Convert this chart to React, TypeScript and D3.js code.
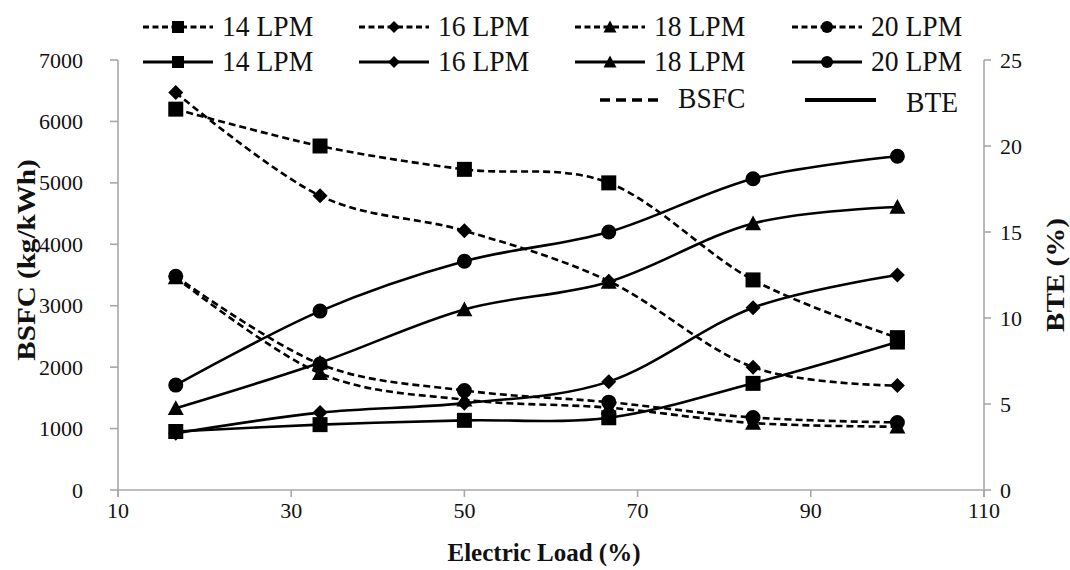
import React from "react";
import * as d3 from "d3";

// Electric load (%) at which each measurement was taken
const LOADS = [16.67, 33.33, 50, 66.67, 83.33, 100];

// Brake specific fuel consumption (kg/kWh) per flow rate
const BSFC_14 = [6200, 5600, 5220, 5000, 3420, 2480];
const BSFC_16 = [6470, 4790, 4220, 3400, 2000, 1700];
const BSFC_18 = [3460, 1900, 1470, 1340, 1090, 1030];
const BSFC_20 = [3480, 2050, 1620, 1430, 1180, 1100];

// Brake thermal efficiency (%) per flow rate
const BTE_14 = [3.4, 3.8, 4.05, 4.2, 6.2, 8.6];
const BTE_16 = [3.3, 4.5, 5.05, 6.3, 10.6, 12.5];
const BTE_18 = [4.75, 7.4, 10.5, 12.1, 15.5, 16.45];
const BTE_20 = [6.1, 10.4, 13.3, 15.0, 18.1, 19.4];

const FLOW_LABELS = ["14 LPM", "16 LPM", "18 LPM", "20 LPM"];
const SHAPES = ["square", "diamond", "triangle", "circle"];

const X_TICKS = [10, 30, 50, 70, 90, 110];
const YL_TICKS = [0, 1000, 2000, 3000, 4000, 5000, 6000, 7000];
const YR_TICKS = [0, 5, 10, 15, 20, 25];

const W = 1070;
const H = 570;
const PLOT = { left: 118, right: 984, top: 60, bottom: 490 };
const AXIS_COLOR = "#a8a8a8";
const FONT = "Liberation Serif, DejaVu Serif, serif";

function markerPath(shape: string, cx: number, cy: number, s: number): string {
  const h = s / 2;
  if (shape === "square") {
    return `M${cx - h},${cy - h}h${s}v${s}h${-s}Z`;
  }
  if (shape === "diamond") {
    return `M${cx},${cy - h}L${cx + h},${cy}L${cx},${cy + h}L${cx - h},${cy}Z`;
  }
  if (shape === "triangle") {
    return `M${cx},${cy - h}L${cx + h},${cy + h * 0.85}L${cx - h},${cy + h * 0.85}Z`;
  }
  return `M${cx - h},${cy}a${h},${h} 0 1,0 ${s},0a${h},${h} 0 1,0 ${-s},0Z`;
}

const MARK_SIZE: Record<string, number> = { square: 15, diamond: 15, triangle: 16, circle: 15 };
const LEG_SIZE: Record<string, number> = { square: 12, diamond: 12, triangle: 13, circle: 12 };

function Txt(props: {
  x: number;
  y: number;
  sx?: number;
  rot?: number;
  size: number;
  anchor?: string;
  bold?: boolean;
  children: React.ReactNode;
}) {
  const { x, y, sx = 1, rot = 0, size, anchor = "start", bold = false } = props;
  return (
    <text
      transform={`translate(${x},${y}) rotate(${rot}) scale(${sx},1)`}
      style={{
        fontFamily: FONT,
        fontSize: size,
        fontWeight: bold ? "bold" : "normal",
      }}
      textAnchor={anchor}
      fill="#111"
    >
      {props.children}
    </text>
  );
}

export default function App() {
  const x = d3.scaleLinear().domain([10, 110]).range([PLOT.left, PLOT.right]);
  const yL = d3.scaleLinear().domain([0, 7000]).range([PLOT.bottom, PLOT.top]);
  const yR = d3.scaleLinear().domain([0, 25]).range([PLOT.bottom, PLOT.top]);

  const bsfc = [BSFC_14, BSFC_16, BSFC_18, BSFC_20];
  const bte = [BTE_14, BTE_16, BTE_18, BTE_20];

  const lineL = d3
    .line<number>()
    .x((_, i) => x(LOADS[i]))
    .y((d) => yL(d))
    .curve(d3.curveCatmullRom.alpha(0));
  const lineR = d3
    .line<number>()
    .x((_, i) => x(LOADS[i]))
    .y((d) => yR(d))
    .curve(d3.curveCatmullRom.alpha(0));

  const legendCols = [143, 359, 575, 792];
  const legendRows = [27, 62];

  return (
    <svg
      width={W}
      height={H}
      style={{ position: "fixed", left: 0, top: 0, background: "#fff" }}
    >
      <rect x={0} y={0} width={W} height={H} fill="#fff" />

      {/* axes */}
      <g stroke={AXIS_COLOR} strokeWidth={1.6} fill="none">
        <line x1={PLOT.left} x2={PLOT.right} y1={PLOT.bottom} y2={PLOT.bottom} />
        <line x1={PLOT.left} x2={PLOT.left} y1={PLOT.top} y2={PLOT.bottom + 7} />
        <line x1={PLOT.right} x2={PLOT.right} y1={PLOT.top} y2={PLOT.bottom + 7} />
        {YL_TICKS.map((t) => (
          <line key={`lt${t}`} x1={PLOT.left - 8} x2={PLOT.left} y1={yL(t)} y2={yL(t)} />
        ))}
        {YR_TICKS.map((t) => (
          <line key={`rt${t}`} x1={PLOT.right} x2={PLOT.right + 7} y1={yR(t)} y2={yR(t)} />
        ))}
        {X_TICKS.map((t) => (
          <line key={`xt${t}`} x1={x(t)} x2={x(t)} y1={PLOT.bottom} y2={PLOT.bottom + 7} />
        ))}
      </g>

      {/* tick labels */}
      {YL_TICKS.map((t) => (
        <Txt key={`ll${t}`} x={83} y={yL(t) + 7.5} size={22} anchor="end">
          {t}
        </Txt>
      ))}
      {YR_TICKS.map((t) => (
        <Txt key={`rl${t}`} x={1000} y={yR(t) + 7.5} size={22}>
          {t}
        </Txt>
      ))}
      {X_TICKS.map((t) => (
        <Txt key={`xl${t}`} x={x(t)} y={518} size={22} anchor="middle">
          {t}
        </Txt>
      ))}

      {/* axis titles */}
      <Txt x={544} y={561} size={25} anchor="middle" bold>
        Electric Load (%)
      </Txt>
      <Txt x={35} y={260} size={26} sx={1.12} rot={-90} anchor="middle" bold>
        BSFC (kg/kWh)
      </Txt>
      <Txt x={1064} y={275} size={26} sx={1.12} rot={-90} anchor="middle" bold>
        BTE (%)
      </Txt>

      {/* BSFC series (left axis, dashed) */}
      {bsfc.map((vals, k) => (
        <g key={`bsfc${k}`}>
          <path
            d={lineL(vals) || ""}
            fill="none"
            stroke="#000"
            strokeWidth={2.6}
            strokeDasharray="7,4"
          />
          {vals.map((v, i) => (
            <path
              key={i}
              d={markerPath(SHAPES[k], x(LOADS[i]), yL(v), MARK_SIZE[SHAPES[k]])}
              fill="#000"
            />
          ))}
        </g>
      ))}

      {/* BTE series (right axis, solid) */}
      {bte.map((vals, k) => (
        <g key={`bte${k}`}>
          <path d={lineR(vals) || ""} fill="none" stroke="#000" strokeWidth={2.6} />
          {vals.map((v, i) => (
            <path
              key={i}
              d={markerPath(SHAPES[k], x(LOADS[i]), yR(v), MARK_SIZE[SHAPES[k]])}
              fill="#000"
            />
          ))}
        </g>
      ))}

      {/* legend */}
      {legendRows.map((ry, r) =>
        FLOW_LABELS.map((lab, k) => {
          const lx = legendCols[k];
          return (
            <g key={`leg${r}${k}`}>
              <line
                x1={lx}
                x2={lx + 70}
                y1={ry}
                y2={ry}
                stroke="#000"
                strokeWidth={r === 0 ? 3 : 2.8}
                strokeDasharray={r === 0 ? "6,3.5" : undefined}
              />
              <path d={markerPath(SHAPES[k], lx + 35, ry, LEG_SIZE[SHAPES[k]])} fill="#000" />
              <Txt x={lx + 79} y={ry + 9} size={30} sx={0.92}>
                {lab}
              </Txt>
            </g>
          );
        })
      )}
      <line x1={600} x2={660} y1={100} y2={100} stroke="#000" strokeWidth={3.6} strokeDasharray="10,6" />
      <Txt x={678} y={108} size={30} sx={0.92}>
        BSFC
      </Txt>
      <line x1={805} x2={876} y1={100} y2={100} stroke="#000" strokeWidth={3.8} />
      <Txt x={906} y={112} size={30} sx={0.92}>
        BTE
      </Txt>
    </svg>
  );
}
